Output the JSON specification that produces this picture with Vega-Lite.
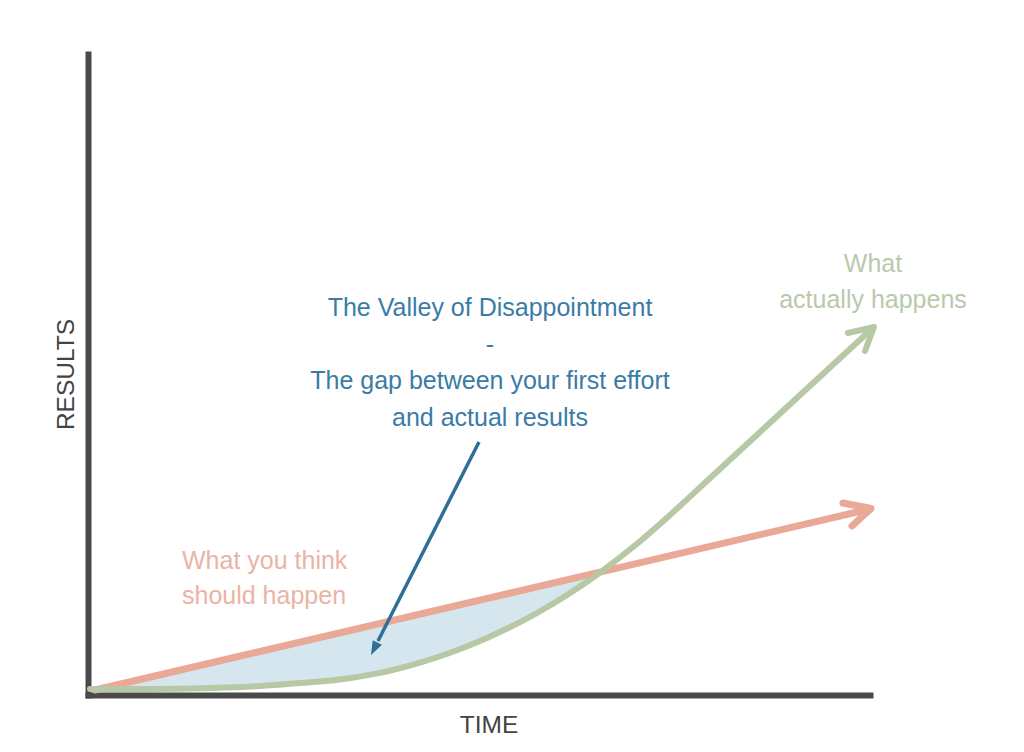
{
  "$schema": "https://vega.github.io/schema/vega-lite/v6.json",
  "width": 782,
  "height": 641,
  "autosize": {"type": "none"},
  "padding": {"left": 88, "top": 54, "right": 154, "bottom": 57},
  "background": "white",
  "config": {"view": {"stroke": null}},
  "datasets": {
    "gap": [
      {"t": 7, "r": 5, "g": 5},
      {"t": 62, "r": 17.9, "g": 6},
      {"t": 125, "r": 32.6, "g": 7},
      {"t": 172, "r": 43.6, "g": 9},
      {"t": 212, "r": 53.0, "g": 12},
      {"t": 252, "r": 62.4, "g": 15.5},
      {"t": 292, "r": 71.7, "g": 22.1},
      {"t": 332, "r": 81.1, "g": 32.4},
      {"t": 365, "r": 88.8, "g": 43.3},
      {"t": 400, "r": 97.0, "g": 57.5},
      {"t": 432, "r": 104.5, "g": 72.9},
      {"t": 465, "r": 112.3, "g": 91.3},
      {"t": 499, "r": 120.2, "g": 113.2},
      {"t": 515, "r": 124, "g": 124}
    ],
    "expected": [
      {"t": 7, "r": 5},
      {"t": 782, "r": 186}
    ],
    "expectedHead": [
      {"i": 0, "t": 755, "r": 192},
      {"i": 1, "t": 783, "r": 186.5},
      {"i": 2, "t": 764, "r": 169}
    ],
    "actual": [
      {"t": 2, "r": 6},
      {"t": 62, "r": 6},
      {"t": 125, "r": 7},
      {"t": 172, "r": 9},
      {"t": 212, "r": 12},
      {"t": 252, "r": 15.5},
      {"t": 292, "r": 22.1},
      {"t": 332, "r": 32.4},
      {"t": 365, "r": 43.3},
      {"t": 400, "r": 57.5},
      {"t": 432, "r": 72.9},
      {"t": 465, "r": 91.3},
      {"t": 499, "r": 113.2},
      {"t": 515, "r": 124.7},
      {"t": 549, "r": 151.2},
      {"t": 582, "r": 180},
      {"t": 620, "r": 215},
      {"t": 785, "r": 367.2}
    ],
    "actualHead": [
      {"i": 0, "t": 760, "r": 362},
      {"i": 1, "t": 786, "r": 368},
      {"i": 2, "t": 777, "r": 344}
    ],
    "pointer": [
      {"i": 0, "t": 391, "r": 253},
      {"i": 1, "t": 290, "r": 54}
    ],
    "pointerHead": [
      {"t": 283, "r": 40, "angle": 26.9}
    ],
    "valleyText": [
      {"t": 402, "r": 379, "label": "The Valley of Disappointment"},
      {"t": 402, "r": 342, "label": "-"},
      {"t": 402, "r": 306, "label": "The gap between your first effort"},
      {"t": 402, "r": 269, "label": "and actual results"}
    ],
    "actualText": [
      {"t": 785, "r": 423, "label": "What"},
      {"t": 785, "r": 387, "label": "actually happens"}
    ],
    "expectedText": [
      {"t": 94, "r": 126, "label": "What you think"},
      {"t": 94, "r": 91, "label": "should happen"}
    ]
  },
  "encoding": {
    "x": {
      "field": "t",
      "type": "quantitative",
      "scale": {"domain": [0, 782], "nice": false, "zero": false},
      "axis": {
        "domain": true,
        "domainColor": "#4a4a4a",
        "domainWidth": 6,
        "domainCap": "square",
        "labels": false,
        "ticks": false,
        "grid": false,
        "title": "TIME",
        "titleFont": "Liberation Sans",
        "titleFontSize": 24.5,
        "titleFontWeight": "normal",
        "titleColor": "#444444",
        "titleX": 400.5,
        "titleY": 37,
        "titleAlign": "center",
        "titleBaseline": "alphabetic"
      }
    },
    "y": {
      "field": "r",
      "type": "quantitative",
      "scale": {"domain": [0, 641], "nice": false, "zero": false},
      "axis": {
        "domain": true,
        "domainColor": "#4a4a4a",
        "domainWidth": 6,
        "domainCap": "square",
        "labels": false,
        "ticks": false,
        "grid": false,
        "title": "RESULTS",
        "titleFont": "Liberation Sans",
        "titleFontSize": 24.5,
        "titleFontWeight": "normal",
        "titleColor": "#444444",
        "titleX": -15,
        "titleY": 320,
        "titleAngle": 270,
        "titleAlign": "center",
        "titleBaseline": "alphabetic"
      }
    }
  },
  "layer": [
    {
      "data": {"name": "gap"},
      "mark": {"type": "area", "interpolate": "monotone", "color": "#d5e6ef", "opacity": 1},
      "encoding": {"y2": {"field": "g"}}
    },
    {
      "data": {"name": "expected"},
      "mark": {"type": "line", "color": "#eaa897", "strokeWidth": 7, "strokeCap": "round"},
      "encoding": {}
    },
    {
      "data": {"name": "expectedHead"},
      "mark": {"type": "line", "color": "#eaa897", "strokeWidth": 7, "strokeCap": "round", "strokeJoin": "round"},
      "encoding": {"order": {"field": "i", "type": "quantitative"}}
    },
    {
      "data": {"name": "actual"},
      "mark": {"type": "line", "interpolate": "monotone", "color": "#b7c8a5", "strokeWidth": 6, "strokeCap": "round"},
      "encoding": {}
    },
    {
      "data": {"name": "actualHead"},
      "mark": {"type": "line", "color": "#b7c8a5", "strokeWidth": 6, "strokeCap": "round", "strokeJoin": "round"},
      "encoding": {"order": {"field": "i", "type": "quantitative"}}
    },
    {
      "data": {"name": "pointer"},
      "mark": {"type": "line", "color": "#2e6f97", "strokeWidth": 3.5},
      "encoding": {"order": {"field": "i", "type": "quantitative"}}
    },
    {
      "data": {"name": "pointerHead"},
      "mark": {
        "type": "point",
        "shape": "M0,0L-0.37,-1L0.37,-1Z",
        "size": 784,
        "filled": true,
        "color": "#2e6f97",
        "opacity": 1,
        "strokeWidth": 0
      },
      "encoding": {"angle": {"field": "angle", "type": "quantitative", "scale": null}}
    },
    {
      "data": {"name": "valleyText"},
      "mark": {"type": "text", "font": "Liberation Sans", "fontSize": 25, "color": "#3a7ca5", "align": "center", "baseline": "alphabetic"},
      "encoding": {"text": {"field": "label"}}
    },
    {
      "data": {"name": "actualText"},
      "mark": {"type": "text", "font": "Liberation Sans", "fontSize": 25, "color": "#b9c9ad", "align": "center", "baseline": "alphabetic"},
      "encoding": {"text": {"field": "label"}}
    },
    {
      "data": {"name": "expectedText"},
      "mark": {"type": "text", "font": "Liberation Sans", "fontSize": 25, "color": "#e9b4a4", "align": "left", "baseline": "alphabetic"},
      "encoding": {"text": {"field": "label"}}
    }
  ]
}
